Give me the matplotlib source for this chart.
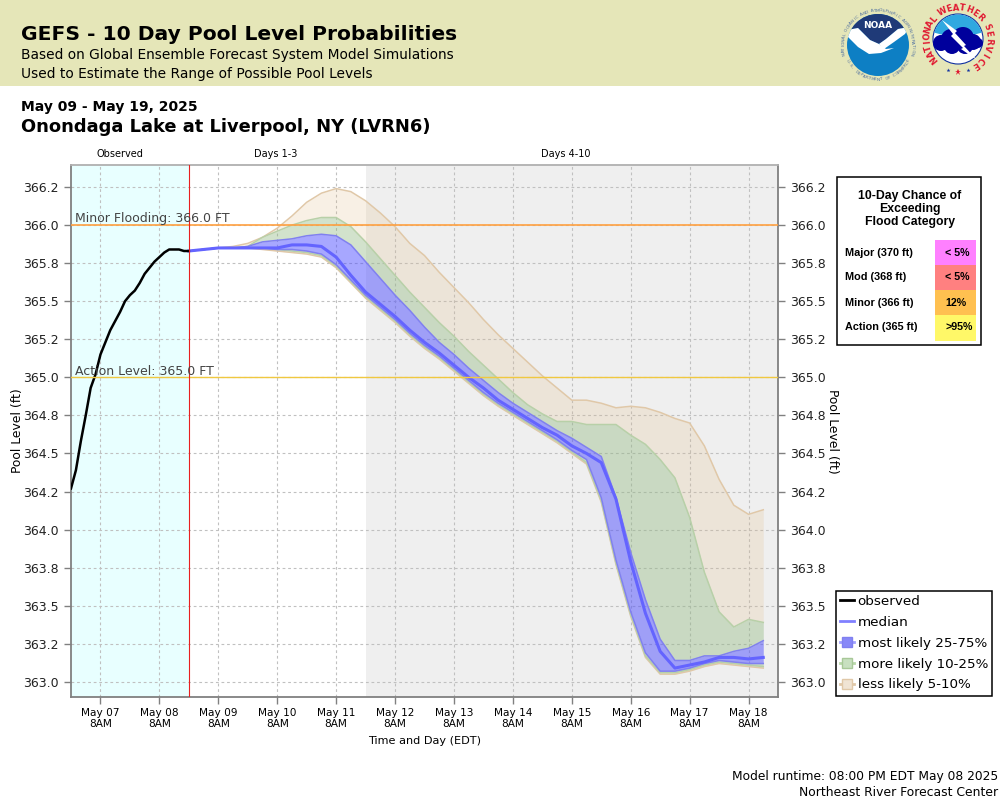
import numpy as np
import pandas as pd
import matplotlib
matplotlib.use('Agg')
import matplotlib.pyplot as plt
from matplotlib.lines import Line2D
from matplotlib.patches import Rectangle, Circle, Polygon, Wedge

# --------------------------
# DATA (pool level, ft)
# --------------------------
obs_times = pd.date_range('2025-05-06 20:00', '2025-05-08 20:00', freq='2h')
observed = [364.27, 364.39, 364.58, 364.75, 364.93, 365.02, 365.15, 365.23, 365.31,
            365.37, 365.43, 365.50, 365.54, 365.57, 365.62, 365.68, 365.72, 365.76,
            365.79, 365.82, 365.84, 365.84, 365.84, 365.83, 365.83]

fcst_times = pd.date_range('2025-05-08 20:00', '2025-05-18 14:00', freq='6h')
tan_top = [365.83, 365.84, 365.85, 365.86, 365.88, 365.92, 365.98, 366.06, 366.15, 366.21,
           366.24, 366.22, 366.16, 366.08, 365.99, 365.88, 365.80, 365.69, 365.59, 365.49,
           365.38, 365.28, 365.19, 365.10, 365.01, 364.93, 364.85, 364.85, 364.83, 364.80,
           364.81, 364.80, 364.77, 364.73, 364.70, 364.55, 364.33, 364.16, 364.10, 364.13]
green_top = [365.83, 365.84, 365.85, 365.85, 365.86, 365.92, 365.96, 366.00, 366.03, 366.05,
             366.05, 365.99, 365.89, 365.78, 365.67, 365.56, 365.46, 365.36, 365.27, 365.17,
             365.08, 364.99, 364.90, 364.82, 364.76, 364.71, 364.71, 364.69, 364.69, 364.69,
             364.62, 364.56, 364.46, 364.34, 364.08, 363.72, 363.46, 363.36, 363.41, 363.39]
blue_top = [365.83, 365.84, 365.85, 365.85, 365.86, 365.89, 365.90, 365.91, 365.93, 365.94,
            365.93, 365.87, 365.76, 365.65, 365.54, 365.44, 365.33, 365.23, 365.15, 365.06,
            364.98, 364.90, 364.83, 364.77, 364.71, 364.65, 364.60, 364.54, 364.48, 364.21,
            363.85, 363.54, 363.28, 363.14, 363.14, 363.17, 363.17, 363.20, 363.22, 363.27]
median = [365.83, 365.84, 365.85, 365.85, 365.85, 365.85, 365.85, 365.87, 365.87, 365.86,
          365.79, 365.67, 365.56, 365.48, 365.40, 365.31, 365.23, 365.16, 365.08, 365.00,
          364.93, 364.85, 364.79, 364.73, 364.67, 364.62, 364.55, 364.50, 364.44, 364.20,
          363.79, 363.45, 363.20, 363.09, 363.11, 363.13, 363.16, 363.16, 363.15, 363.16]
blue_bot = [365.83, 365.84, 365.85, 365.85, 365.85, 365.85, 365.84, 365.84, 365.83, 365.81,
            365.74, 365.64, 365.54, 365.46, 365.38, 365.29, 365.21, 365.14, 365.06, 364.98,
            364.90, 364.83, 364.77, 364.71, 364.65, 364.59, 364.52, 364.46, 364.21, 363.80,
            363.46, 363.19, 363.07, 363.07, 363.09, 363.12, 363.14, 363.13, 363.12, 363.12]
green_bot = [365.83, 365.84, 365.85, 365.85, 365.85, 365.85, 365.84, 365.83, 365.82, 365.80,
             365.73, 365.63, 365.53, 365.45, 365.37, 365.28, 365.20, 365.13, 365.05, 364.97,
             364.89, 364.82, 364.76, 364.70, 364.64, 364.58, 364.51, 364.44, 364.19, 363.78,
             363.44, 363.17, 363.06, 363.06, 363.08, 363.11, 363.13, 363.12, 363.11, 363.10]
tan_bot = [365.83, 365.84, 365.85, 365.85, 365.85, 365.84, 365.83, 365.82, 365.81, 365.79,
           365.72, 365.62, 365.52, 365.44, 365.36, 365.27, 365.19, 365.12, 365.04, 364.96,
           364.88, 364.81, 364.75, 364.69, 364.63, 364.57, 364.50, 364.43, 364.18, 363.77,
           363.43, 363.16, 363.05, 363.05, 363.07, 363.10, 363.12, 363.11, 363.10, 363.09]

y_ticks = [363.0, 363.25, 363.5, 363.75, 364.0, 364.25, 364.5, 364.75,
           365.0, 365.25, 365.5, 365.75, 366.0, 366.25]
y_labels = ['363.0', '363.2', '363.5', '363.8', '364.0', '364.2', '364.5', '364.8',
            '365.0', '365.2', '365.5', '365.8', '366.0', '366.2']
x_ticks = pd.date_range('2025-05-07 08:00', '2025-05-18 08:00', freq='D')

flood_cats = ['Major (370 ft)', 'Mod (368 ft)', 'Minor (366 ft)', 'Action (365 ft)']
flood_chance = ['< 5%', '< 5%', '12%', '>95%']
flood_colors = ['#FF80FF', '#FF8080', '#FFC050', '#FFF868']

BLUE = '#5050FF'
GREEN = '#90B880'
TAN = '#E0B880'

# --------------------------
# FIGURE
# --------------------------
fig = plt.figure(figsize=(10, 8), dpi=100)

# overlay in pixel coordinates for the page furniture
page = fig.add_axes([0, 0, 1, 1], zorder=0)
page.set_xlim(0, 1000)
page.set_ylim(800, 0)
page.axis('off')

ax = fig.add_axes([71 / 1000, 1 - 697 / 800, 707 / 1000, 532 / 800], zorder=1)
ax.set_xlim(pd.Timestamp('2025-05-06 20:00'), pd.Timestamp('2025-05-18 20:00'))
ax.set_ylim(362.90, 366.395)

# background zones
ax.axvspan(pd.Timestamp('2025-05-06 20:00'), pd.Timestamp('2025-05-08 20:00'), color='#E8FFFF', lw=0, zorder=0)
ax.axvspan(pd.Timestamp('2025-05-11 20:00'), pd.Timestamp('2025-05-18 20:00'), color='#EFEFEF', lw=0, zorder=0)

ax.set_axisbelow(True)
ax.grid(True, color='#C0C0C0', lw=0.8, linestyle=(0, (2.5, 2.5)))

# probability bands
ax.fill_between(fcst_times, green_top, tan_top, color=TAN, alpha=0.2, lw=0, zorder=2)
ax.fill_between(fcst_times, tan_bot, green_bot, color=TAN, alpha=0.2, lw=0, zorder=2)
ax.fill_between(fcst_times, blue_top, green_top, color=GREEN, alpha=0.4, lw=0, zorder=2)
ax.fill_between(fcst_times, green_bot, blue_bot, color=GREEN, alpha=0.4, lw=0, zorder=2)
ax.fill_between(fcst_times, blue_bot, blue_top, color=BLUE, alpha=0.5, lw=0, zorder=2)

for series, col in [(tan_top, '#E0C8A8'), (tan_bot, '#E0C8A8'), (green_top, '#B8D0A8'),
                    (green_bot, '#B8D0A8'), (blue_top, '#8080F0'), (blue_bot, '#8080F0')]:
    ax.plot(fcst_times, series, color=col, lw=1.1, zorder=3)
ax.plot(fcst_times, median, color='#6464FF', lw=2.2, zorder=4)
ax.plot(obs_times, observed, color='black', lw=1.8, zorder=5)

# flood levels and forecast start
ax.axhline(366.0, color='#FFA040', lw=1.2, zorder=6)
ax.axhline(365.0, color='#F0C840', lw=1, zorder=6)
ax.axvline(pd.Timestamp('2025-05-08 20:00'), color='#E82020', lw=0.8, zorder=6)

# axes styling
ax.set_yticks(y_ticks)
ax.set_yticklabels(y_labels, fontsize=9, color='#222222')
ax.set_xticks(x_ticks)
ax.set_xticklabels([t.strftime('%b %d') + '\n8AM' for t in x_ticks], fontsize=7.6, linespacing=1.05)
ax.tick_params(axis='y', length=5, width=1, color='#808080', right=True, labelright=True, pad=4)
ax.tick_params(axis='x', length=5, width=1, color='#808080', pad=3)
for side in ['left', 'bottom', 'right']:
    ax.spines[side].set_color('#808080')
    ax.spines[side].set_linewidth(1.3)
ax.spines['top'].set_color('#B0B0B0')
ax.spines['top'].set_linewidth(1.3)

# text on the plot goes on a top overlay
over = fig.add_axes([0, 0, 1, 1], zorder=2)
over.set_xlim(0, 1000)
over.set_ylim(800, 0)
over.axis('off')
over.patch.set_alpha(0)

over.text(75, 222, 'Minor Flooding: 366.0 FT', fontsize=9, color='#444444', va='baseline')
over.text(75, 375, 'Action Level: 365.0 FT', fontsize=9, color='#444444', va='baseline')
over.text(120, 157, 'Observed', fontsize=7, ha='center', va='baseline')
over.text(276, 157, 'Days 1-3', fontsize=7, ha='center', va='baseline')
over.text(566, 157, 'Days 4-10', fontsize=7, ha='center', va='baseline')
over.text(18, 431, 'Pool Level (ft)', fontsize=8.9, rotation=90, ha='center', va='center')
over.text(832, 431, 'Pool Level (ft)', fontsize=8.9, rotation=270, ha='center', va='center')
over.text(425, 744, 'Time and Day (EDT)', fontsize=8.1, ha='center', va='baseline')

# header band
page.add_patch(Rectangle((0, 0), 1000, 86, color='#E5E6B8', lw=0))
page.text(21, 40, 'GEFS - 10 Day Pool Level Probabilities', fontsize=14.6, fontweight='bold', va='baseline')
page.text(21, 59, 'Based on Global Ensemble Forecast System Model Simulations', fontsize=9.9, va='baseline')
page.text(21, 78, 'Used to Estimate the Range of Possible Pool Levels', fontsize=9.9, va='baseline')
page.text(21, 110.5, 'May 09 - May 19, 2025', fontsize=10, fontweight='bold', va='baseline')
page.text(21, 132, 'Onondaga Lake at Liverpool, NY (LVRN6)', fontsize=12.9, fontweight='bold', va='baseline')
page.text(998, 780, 'Model runtime: 08:00 PM EDT May 08 2025', fontsize=8.8, ha='right', va='baseline')
page.text(998, 796, 'Northeast River Forecast Center', fontsize=8.9, ha='right', va='baseline')


def ring_text(target, cx, cy, r, s, start, step, fontsize, color, weight='normal', inward=False):
    # one letter at a time round a circle, angle in degrees clockwise from top
    for i, ch in enumerate(s):
        a = np.radians(start + i * step)
        px, py = cx + r * np.sin(a), cy - r * np.cos(a)
        rot = -np.degrees(a) + (180 if inward else 0)
        target.text(px, py, ch, fontsize=fontsize, color=color, fontweight=weight,
                    rotation=rot, ha='center', va='center', rotation_mode='anchor')


# NOAA logo
cx, cy = 878, 45
disc = Circle((cx, cy), 31, color='#0D7FC4', lw=0)
page.add_patch(disc)
navy = Polygon([(cx - 31, cy - 31), (cx + 31, cy - 31), (cx + 31, cy - 18), (cx + 20, cy - 16),
                (cx + 8, cy - 6), (cx + 1, cy - 1), (cx - 8, cy - 5), (cx - 20, cy - 17), (cx - 31, cy - 15)],
               color='#1F3A78', lw=0)
page.add_patch(navy)
navy.set_clip_path(disc)
wing_l = Polygon([(cx - 31, cy - 15), (cx - 20, cy - 17), (cx - 8, cy - 5), (cx + 1, cy - 1), (cx + 8, cy + 4),
                  (cx + 16, cy + 3), (cx + 3, cy + 8), (cx - 9, cy + 9), (cx - 20, cy + 2), (cx - 31, cy - 9)],
                 color='white', lw=0)
wing_r = Polygon([(cx + 31, cy - 18), (cx + 20, cy - 16), (cx + 8, cy - 6), (cx + 1, cy - 1), (cx + 6, cy + 4),
                  (cx + 16, cy - 3), (cx + 27, cy - 11)], color='white', lw=0)
for w in (wing_l, wing_r):
    page.add_patch(w)
    w.set_clip_path(disc)
page.text(cx, cy - 20, 'NOAA', fontsize=6.5, fontweight='bold', color='white', ha='center', va='center')
ring_text(page, cx, cy, 34.5, 'NATIONAL OCEANIC AND ATMOSPHERIC ADMINISTRATION', -105, 4.55, 3.1, '#4F6FA0')
ring_text(page, cx, cy, 34.5, 'U.S. DEPARTMENT OF COMMERCE', 243, -4.85, 3.1, '#4F6FA0', inward=True)

# NWS logo
nx, ny = 958, 39
page.add_patch(Circle((nx, ny), 25, facecolor='white', edgecolor='#1030A0', lw=0.8))
page.add_patch(Wedge((nx, ny), 24.5, 195, 345, color='#30A8E0', lw=0))
for dx, dy, r in [(-17, 4, 8), (-7, 0, 10), (5, -1, 11), (15, 3, 8), (-6, 7, 8), (7, 7, 8), (20, 4, 5)]:
    page.add_patch(Circle((nx + dx, ny + dy), r, color='#00009C', lw=0))
page.add_patch(Polygon([(nx - 16, ny - 19), (nx - 1, ny - 8), (nx - 3, ny - 6), (nx + 8, ny + 6), (nx + 6, ny + 7),
                        (nx + 19, ny + 21), (nx + 3, ny + 10), (nx + 5, ny + 9), (nx - 7, ny - 3), (nx - 5, ny - 5)],
                       color='white', lw=0))
ring_text(page, nx, ny, 31, 'NATIONAL', -130, 11.4, 6, '#E01830', weight='bold')
ring_text(page, nx, ny, 31, 'WEATHER', -29, 12.5, 6, '#E01830', weight='bold')
ring_text(page, nx, ny, 31, 'SERVICE', 67, 13.3, 6, '#E01830', weight='bold')
for dx, dy, sz in [(-10, 31, 3), (0, 33, 5), (10, 31, 3)]:
    page.plot(nx + dx, ny + dy, marker='*', ms=sz, color='#E01830' if dx == 0 else '#1030A0', mew=0)

# flood category table
over.add_patch(Rectangle((836.5, 177), 144, 168, facecolor='white', edgecolor='black', lw=1.1))
tfont = 'Liberation Sans'
for i, line in enumerate(['10-Day Chance of', 'Exceeding', 'Flood Category']):
    over.text(910, 199 + 13 * i, line, fontsize=8.8, fontweight='bold', family=tfont, ha='center', va='baseline')
for i in range(len(flood_cats)):
    top = 240 + 25 * i
    over.add_patch(Rectangle((935, top), 41, 25 if i < 3 else 26, color=flood_colors[i], lw=0))
    over.text(845, top + 12.5, flood_cats[i], fontsize=7.8, fontweight='bold', family=tfont, va='center')
    over.text(945, top + 12.5, flood_chance[i], fontsize=7.7, fontweight='bold', family=tfont, va='center')

# legend
handles = [
    Line2D([0], [0], color='black', lw=2),
    Line2D([0], [0], color='#8080FF', lw=2),
    Line2D([0], [0], color='#A0A0FF', lw=2, marker='s', ms=6.5, mfc='#8888F8', mec='#8080F0'),
    Line2D([0], [0], color='#B8D8A8', lw=2, marker='s', ms=6.5, mfc='#C8E0C0', mec='#A8C898'),
    Line2D([0], [0], color='#E0C8A8', lw=2, marker='s', ms=6.5, mfc='#F0E4D4', mec='#E0C8A8'),
]
labels = ['observed', 'median', 'most likely 25-75%', 'more likely 10-25%', 'less likely 5-10%']
leg = over.legend(handles, labels, loc='lower left', bbox_to_anchor=(835.5 / 1000, 1 - 695.5 / 800),
                  bbox_transform=fig.transFigure, fontsize=9.7, frameon=True, fancybox=False,
                  framealpha=1, edgecolor='black', handlelength=1.1, handletextpad=0.25,
                  labelspacing=0.58, borderpad=0.3, borderaxespad=0)
leg.get_frame().set_linewidth(1.1)

plt.savefig('out.png', dpi=100)
